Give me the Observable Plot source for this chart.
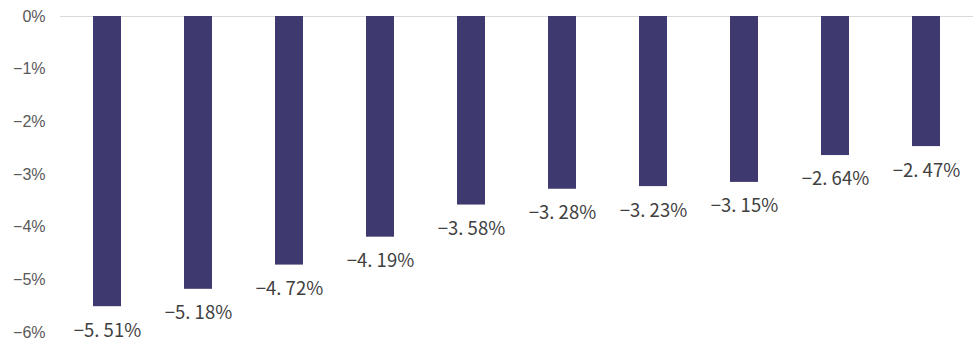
<!DOCTYPE html>
<html><head><meta charset="utf-8">
<script src="https://cdn.jsdelivr.net/npm/d3@7"></script>
<script src="https://cdn.jsdelivr.net/npm/@observablehq/plot@0.6"></script>
<style>body{margin:0;background:#fff}</style>
</head><body><div id="chart"></div>
<script>
const categories = ["1","2","3","4","5","6","7","8","9","10"];
const values = [-5.51, -5.18, -4.72, -4.19, -3.58, -3.28, -3.23, -3.15, -2.64, -2.47];
const yTicks = [0, -1, -2, -3, -4, -5, -6];

const data = categories.map((c, i) => ({c, v: values[i]}));
const fmtLabel = v => "−" + Math.abs(v).toFixed(2).replace(".", ". ") + "%";
const fmtTick = v => (v < 0 ? "−" : "") + Math.abs(v) + "%";

const chart = Plot.plot({
  width: 973, height: 345,
  marginTop: 16, marginBottom: 13, marginLeft: 60, marginRight: 0,
  style: {fontFamily: "'Liberation Sans', Arial, sans-serif", background: "#fff"},
  x: {domain: categories, paddingInner: 0.69, paddingOuter: 0.345, axis: null},
  y: {domain: [-6, 0], ticks: yTicks, tickFormat: fmtTick, label: null},
  marks: [
    Plot.axisY({ticks: yTicks, tickFormat: fmtTick, tickSize: 0, tickPadding: 15, fontSize: 16, fill: "#595959", label: null, fontFamily: "'Liberation Sans', Arial, sans-serif"}),
    Plot.ruleY([0], {stroke: "#d9d9d9", strokeWidth: 1.2}),
    Plot.barY(data, {x: "c", y: "v", fill: "#3e396e"}),
    Plot.text(data, {x: "c", y: "v", text: d => fmtLabel(d.v), dy: 24, fontSize: 18.5, fill: "#404040", fontFamily: "'Noto Sans CJK SC', sans-serif"})
  ]
});
document.getElementById("chart").appendChild(chart);
</script></body></html>
